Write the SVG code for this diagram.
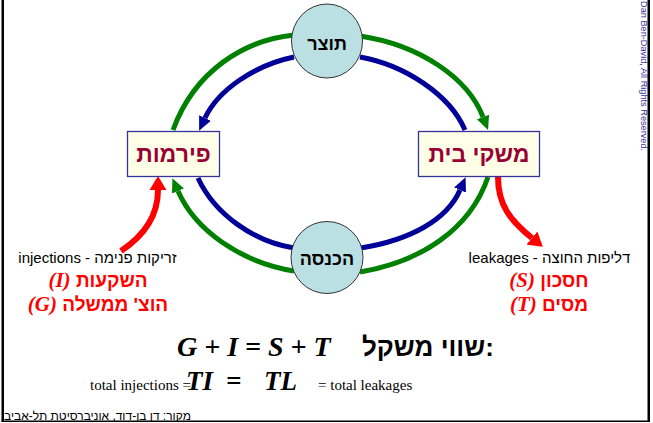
<svg xmlns="http://www.w3.org/2000/svg" width="653" height="423" viewBox="0 0 653 423">
<style>
.sans{font-family:"Liberation Sans",Arial,"DejaVu Sans",sans-serif}
.ell{fill:#BBE0E3;stroke:#333333;stroke-width:1}
.ellt{font-family:"Liberation Sans",Arial,"DejaVu Sans",sans-serif;font-weight:bold;font-size:18px;fill:#000;text-anchor:middle}
.box{fill:#FFFFE8;stroke:#333399;stroke-width:1.3}
.boxt{font-family:"Liberation Sans",Arial,"DejaVu Sans",sans-serif;font-weight:bold;font-size:23px;fill:#990033;text-anchor:middle}
.g{fill:none;stroke:#008000;stroke-width:5}
.b{fill:none;stroke:#000099;stroke-width:5}
.r{fill:none;stroke:#FF0000;stroke-width:6}
.lbl{font-family:"Liberation Sans",Arial,"DejaVu Sans",sans-serif;font-size:15px;fill:#000;text-anchor:middle}
.red{font-family:"Liberation Sans",Arial,"DejaVu Sans",sans-serif;font-weight:bold;font-size:19px;fill:#FF0000;text-anchor:middle}
.mi{font-family:"Liberation Serif","Times New Roman",serif;font-style:italic;font-weight:bold;font-size:21px}
.eq{font-family:"Liberation Serif","Times New Roman",serif;font-style:italic;font-weight:bold;font-size:28px;fill:#000}
.eq2{font-family:"Liberation Serif","Times New Roman",serif;font-style:italic;font-weight:bold;font-size:27px;fill:#000}
.rm{font-family:"Liberation Serif","Times New Roman",serif;font-size:15px;fill:#000}
</style>
<defs>
<marker id="ag" viewBox="0 -7 14 14" refX="0" refY="0" markerWidth="14" markerHeight="14" markerUnits="userSpaceOnUse" orient="auto"><path d="M0,-6.5 L14,0 L0,6.5 z" fill="#008000"/></marker>
<marker id="ab" viewBox="0 -7 14 14" refX="0" refY="0" markerWidth="14" markerHeight="14" markerUnits="userSpaceOnUse" orient="auto"><path d="M0,-6.5 L14,0 L0,6.5 z" fill="#000099"/></marker>
<marker id="ar" viewBox="0 -9 14 18" refX="0" refY="0" markerWidth="14" markerHeight="18" markerUnits="userSpaceOnUse" orient="auto"><path d="M0,-8.5 L14,0 L0,8.5 z" fill="#FF0000"/></marker>
</defs>
<rect width="653" height="423" fill="#FFFFFF"/>
<g id="frame" fill="#000">
<rect x="1.5" y="0" width="2.5" height="422"/>
<rect x="647.5" y="0" width="2.5" height="422"/>
<rect x="1.5" y="420.5" width="648.5" height="1.5"/>
</g>
<g id="connectors">
<path class="g" d="M173,130 C195,70 245,40 294,35"/>
<path class="g" d="M360,36 C420,45 468,78 483,117" marker-end="url(#ag)"/>
<path class="b" d="M465,130 C450,95 405,65 360,57"/>
<path class="b" d="M294,57 C255,65 218,90 205,118" marker-end="url(#ab)"/>
<path class="b" d="M198,178 C215,215 255,242 294,248"/>
<path class="b" d="M361,248 C410,240 447,220 460,190" marker-end="url(#ab)"/>
<path class="g" d="M488,177 C470,230 420,262 360,272"/>
<path class="g" d="M294,271 C240,262 195,230 178,191" marker-end="url(#ag)"/>
<path class="r" d="M121,251 C145,235 158,215 158,190" marker-end="url(#ar)"/>
<path class="r" d="M498,177 C498,205 510,220 532,238" marker-end="url(#ar)"/>
</g>
<g id="node-product">
<ellipse class="ell" cx="327" cy="41" rx="35.5" ry="37"/>
<text class="ellt" x="327" y="50">תוצר</text>
</g>
<g id="node-income">
<ellipse class="ell" cx="327" cy="257.5" rx="36" ry="36"/>
<text class="ellt" x="327" y="265">הכנסה</text>
</g>
<g id="node-firms">
<rect class="box" x="127.5" y="131.5" width="92" height="45"/>
<text class="boxt" x="173.5" y="162">פירמות</text>
</g>
<g id="node-households">
<rect class="box" x="418.5" y="131.5" width="121" height="45"/>
<text class="boxt" x="479" y="162">משקי בית</text>
</g>
<g id="injections">
<text class="lbl" x="97.5" y="263">injections - זריקות פנימה</text>
<text class="red" x="98" y="287"><tspan class="mi">(I)</tspan> השקעות</text>
<text class="red" x="98" y="311"><tspan class="mi">(G)</tspan> הוצ' ממשלה</text>
</g>
<g id="leakages">
<text class="lbl" x="549.5" y="263">leakages - דליפות החוצה</text>
<text class="red" x="549" y="287"><tspan class="mi">(S)</tspan> חסכון</text>
<text class="red" x="549" y="311"><tspan class="mi">(T)</tspan> מסים</text>
</g>
<g id="equation">
<text class="eq" x="177" y="356">G + I = S + T</text>
<text class="sans" x="362" y="356" font-size="26" font-weight="bold" fill="#000">שווי משקל:</text>
<text class="rm" x="90" y="390">total injections =</text>
<text class="eq2" x="186" y="390">TI</text>
<text class="eq2" x="226" y="390">=</text>
<text class="eq2" x="264" y="390">TL</text>
<text class="rm" x="318" y="390">= total leakages</text>
</g>
<g id="footer">
<text class="sans" x="4" y="420" font-size="12" fill="#000">מקור: דן בן-דוד, אוניברסיטת תל-אביב</text>
<text class="sans" transform="translate(641,1) rotate(90)" font-size="9.2" fill="#333399">Dan Ben-David, All Rights Reserved.</text>
</g>
</svg>
